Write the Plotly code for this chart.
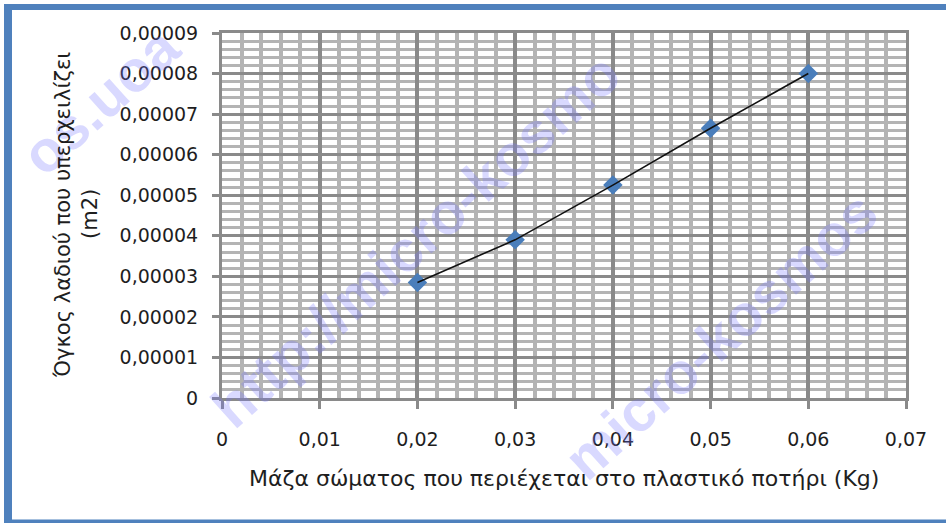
import plotly.graph_objects as go

# ---- data ----
mass_kg = [0.02, 0.03, 0.04, 0.05, 0.06]
volume_m = [0.0000285, 0.000039, 0.0000525, 0.0000665, 0.00008]

x_tickvals = [0, 0.01, 0.02, 0.03, 0.04, 0.05, 0.06, 0.07]
x_ticktext = ["0", "0,01", "0,02", "0,03", "0,04", "0,05", "0,06", "0,07"]
y_tickvals = [0, 0.00001, 0.00002, 0.00003, 0.00004, 0.00005, 0.00006, 0.00007, 0.00008, 0.00009]
y_ticktext = ["0", "0,00001", "0,00002", "0,00003", "0,00004", "0,00005",
              "0,00006", "0,00007", "0,00008", "0,00009"]

x_title = "Μάζα σώματος που περιέχεται στο πλαστικό ποτήρι (Kg)"
y_title_1 = "Όγκος λαδιού που υπερχειλίζει"
y_title_2 = "(m2)"
watermark_parts = ["http://micro-kosmo", "micro-kosmos", "os.uoa"]

# ---- layout geometry (pixels) ----
W, H = 946, 523
L, R, T, B = 222, 40, 33, 125
PW, PH = W - L - R, H - T - B


def px(x):
    return (x - L) / PW


def py(y):
    return (H - B - y) / PH


FONT = "DejaVu Sans"
TXT = "#1e1e1e"
MAJOR = "#8a8a8a"
MINOR = "#b4b4b4"
BORDER = "#4F81BD"

fig = go.Figure()

fig.add_trace(go.Scatter(
    x=mass_kg, y=volume_m, mode="markers",
    marker=dict(symbol="diamond", size=15, color="#4A7EBB", line=dict(width=0)),
    showlegend=False, hoverinfo="skip"))
fig.add_trace(go.Scatter(
    x=mass_kg, y=volume_m, mode="lines",
    line=dict(color="#111111", width=1.6),
    showlegend=False, hoverinfo="skip"))

axis_common = dict(
    showline=True, linecolor=MAJOR, linewidth=3, mirror=True,
    showgrid=True, gridcolor=MAJOR, zeroline=False,
    ticks="outside", tickcolor=MAJOR, tickwidth=3,
    tickfont=dict(family=FONT, size=19, color=TXT),
)

fig.update_layout(
    width=W, height=H,
    margin=dict(l=L, r=R, t=T, b=B),
    paper_bgcolor="white", plot_bgcolor="white",
    xaxis=dict(
        range=[0, 0.07], tickvals=x_tickvals, ticktext=x_ticktext,
        gridwidth=4, ticklen=8, ticklabelstandoff=14,
        minor=dict(dtick=0.002, tick0=0, showgrid=True, gridcolor=MINOR, gridwidth=4, ticks=""),
        **axis_common),
    yaxis=dict(
        range=[0, 0.00009], tickvals=y_tickvals, ticktext=y_ticktext,
        gridwidth=3, ticklen=7, ticklabelstandoff=10,
        minor=dict(dtick=0.000002, tick0=0, showgrid=True, gridcolor=MINOR, gridwidth=2.5, ticks=""),
        **axis_common),
    showlegend=False,
)

annotations = []
# faint diagonal watermark pieces
for text, (cx, cy) in zip(watermark_parts, [(415, 240), (720, 335), (100, 100)]):
    annotations.append(dict(
        text="<b>" + text + "</b>", x=px(cx), y=py(cy), xref="paper", yref="paper",
        xanchor="center", yanchor="middle",
        showarrow=False, textangle=-42,
        font=dict(family="Liberation Sans", size=58, color="rgba(120,120,255,0.28)")))
annotations += [
    dict(text=x_title, x=px(564), y=py(478), xref="paper", yref="paper",
         xanchor="center", yanchor="middle",
         showarrow=False, font=dict(family=FONT, size=22, color=TXT)),
    dict(text=y_title_1, x=px(63), y=py(215), xref="paper", yref="paper",
         xanchor="center", yanchor="middle",
         showarrow=False, textangle=-90, font=dict(family=FONT, size=21, color=TXT)),
    dict(text=y_title_2, x=px(90), y=py(214), xref="paper", yref="paper",
         xanchor="center", yanchor="middle",
         showarrow=False, textangle=-90, font=dict(family=FONT, size=21, color=TXT)),
]
fig.update_layout(annotations=annotations)

# blue outer frame
shapes = [
    dict(type="line", xref="paper", yref="paper", x0=px(8), x1=px(8), y0=py(4), y1=py(523),
         line=dict(color=BORDER, width=8)),
    dict(type="line", xref="paper", yref="paper", x0=px(4), x1=px(960), y0=py(7), y1=py(7),
         line=dict(color=BORDER, width=6)),
    dict(type="line", xref="paper", yref="paper", x0=px(4), x1=px(960), y0=py(522), y1=py(522),
         line=dict(color=BORDER, width=5)),
]
fig.update_layout(shapes=shapes)

fig.write_html("out.html", config={"displayModeBar": False},
               post_script="document.body.style.margin='0';")
